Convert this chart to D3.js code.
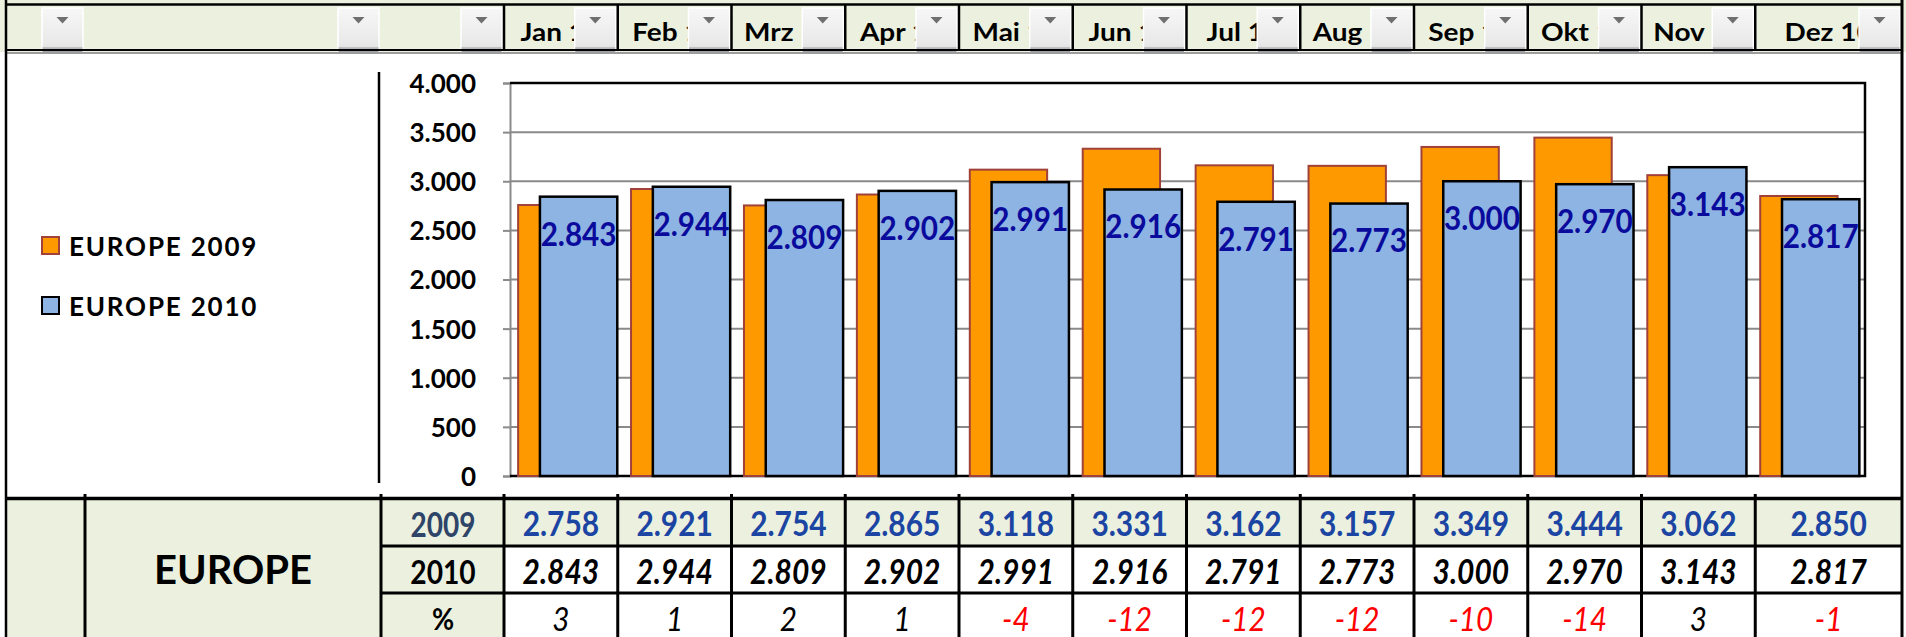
<!DOCTYPE html>
<html><head><meta charset="utf-8">
<script src="https://cdn.jsdelivr.net/npm/d3@7"></script>
<style>
html,body{margin:0;padding:0;background:#fff;}
svg{display:block;font-family:Lato,'Open Sans',sans-serif;}
</style></head><body>
<svg id="c" width="1906" height="637"></svg>
<script>
// ---------- data ----------
const months = ["Jan","Feb","Mrz","Apr","Mai","Jun","Jul","Aug","Sep","Okt","Nov","Dez"];
const headerLabels = ["Jan 10","Feb 10","Mrz 10","Apr 10","Mai 10","Jun 10","Jul 10","Aug 10","Sep 10","Okt 10","Nov 10","Dez 10"];
const series2009 = [2758,2921,2754,2865,3118,3331,3162,3157,3349,3444,3062,2850];
const series2010 = [2843,2944,2809,2902,2991,2916,2791,2773,3000,2970,3143,2817];
const pctChange = [3,1,2,1,-4,-12,-12,-12,-10,-14,3,-1];
const yTicks = [0,500,1000,1500,2000,2500,3000,3500,4000];
const legendLabels = ["EUROPE 2009","EUROPE 2010"];
const rowLabels = ["2009","2010","%"];
const regionLabel = "EUROPE";

// ---------- setup ----------
const W = 1906, H = 637;
const GREEN = "#EBF1DE";
const ORANGE = "#FF9900", ORANGE_STROKE = "#A0413A";
const BLUE = "#8EB4E3";
const svg = d3.select("#c");
const de = d3.formatLocale({decimal:",", thousands:".", grouping:[3], currency:["","€"]});
const fmt = de.format(",d");

function styled(sel, o){
  sel.attr("x",0).attr("y",0)
    .attr("transform",(d,i) => `translate(${typeof o.x==="function"?o.x(d,i):o.x},${typeof o.y==="function"?o.y(d,i):o.y}) scale(${o.sx||1},1)`)
    .attr("text-anchor",o.anchor||"middle")
    .attr("dy",o.dy||"0.36em")
    .attr("font-size",o.size)
    .attr("font-weight",o.weight||"normal")
    .attr("font-style",o.style||"normal")
    .attr("fill",o.fill||"#000");
  if (o.ls) sel.attr("letter-spacing",o.ls);
  return sel;
}

const defs = svg.append("defs");
const g1 = defs.append("linearGradient").attr("id","btn").attr("x1",0).attr("y1",0).attr("x2",0).attr("y2",1);
g1.append("stop").attr("offset","0%").attr("stop-color","#f7f7f7");
g1.append("stop").attr("offset","80%").attr("stop-color","#e9e9ea");
g1.append("stop").attr("offset","100%").attr("stop-color","#dcdcdd");
const g2 = defs.append("linearGradient").attr("id","btnb").attr("x1",0).attr("y1",0).attr("x2",0).attr("y2",1);
g2.append("stop").attr("offset","0%").attr("stop-color","#c4c6c9");
g2.append("stop").attr("offset","100%").attr("stop-color","#9a9da2");

const colX = d3.scaleBand().domain(months).range([504, 504 + 12*113.75]);
const RIGHT = 1902;
const cellW = (i) => i === 11 ? RIGHT - colX(months[i]) : colX.bandwidth();
const colC = (i) => colX(months[i]) + cellW(i)/2;
const leftCols = [[6,85],[85,381],[381,504]];

// ---------- header ----------
svg.append("rect").attr("x",0).attr("y",0).attr("width",W).attr("height",52).attr("fill",GREEN);
svg.append("rect").attr("x",6).attr("y",53).attr("width",RIGHT-6).attr("height",445).attr("fill","#fff");

const hdr = svg.append("g");
styled(hdr.selectAll("text.hl").data(headerLabels).join("text").attr("class","hl").text(d => d),
  {x:(d,i) => colC(i), y:41, dy:"0", size:25, weight:"bold", sx:1.12});
function dropdown(right){
  const g = hdr.append("g").attr("transform",`translate(${right-43},8)`);
  g.append("rect").attr("x",0).attr("y",0).attr("width",41).attr("height",44).attr("fill","url(#btn)").attr("stroke","#ffffff").attr("stroke-width",1.5);
  g.append("rect").attr("x",0.5).attr("y",39).attr("width",40).attr("height",5).attr("fill","url(#btnb)");
  g.append("path").attr("d","M14.5,9 L26.5,9 L20.5,15.5 Z").attr("fill","#6f6f6f");
}
leftCols.forEach(c => dropdown(c[1]));
months.forEach((m,i) => dropdown(colX(m) + cellW(i)));

months.forEach(m => {
  hdr.append("line").attr("x1",colX(m)).attr("x2",colX(m)).attr("y1",4).attr("y2",50).attr("stroke","#000").attr("stroke-width",2.5);
});
hdr.append("line").attr("x1",6).attr("x2",RIGHT).attr("y1",4.5).attr("y2",4.5).attr("stroke","#000").attr("stroke-width",2.5);
hdr.append("line").attr("x1",6).attr("x2",RIGHT).attr("y1",50).attr("y2",50).attr("stroke","#000").attr("stroke-width",2);
hdr.append("line").attr("x1",6).attr("x2",RIGHT).attr("y1",53).attr("y2",53).attr("stroke","#7d7d7d").attr("stroke-width",1.5);

// ---------- chart ----------
const x = d3.scaleBand().domain(months).range([510, 1865]);
const y = d3.scaleLinear().domain([0, 4000]).range([476, 83]);
const bw = x.bandwidth();

const plot = svg.append("g");
plot.selectAll("line.grid").data(yTicks.filter(t => t > 0 && t < 4000)).join("line")
  .attr("class","grid").attr("x1",510).attr("x2",1865)
  .attr("y1",d => y(d)).attr("y2",d => y(d)).attr("stroke","#8a8a8a").attr("stroke-width",2);

const axis = d3.axisLeft(y).tickValues(yTicks).tickSize(7).tickPadding(27).tickFormat(d => fmt(d));
const ag = plot.append("g").attr("transform","translate(510,0)").call(axis);
ag.select(".domain").attr("stroke","#8a8a8a").attr("stroke-width",2);
ag.selectAll(".tick line").attr("stroke","#8a8a8a").attr("stroke-width",2);
ag.selectAll(".tick text").attr("font-size",26).attr("font-weight","bold").attr("fill","#000")
  .attr("font-family","Lato,'Open Sans',sans-serif").attr("dy","0.36em");

plot.append("path").attr("d",`M510,${y(4000)} H1865 V${y(0)} H510`).attr("fill","none").attr("stroke","#000").attr("stroke-width",2.5);

plot.selectAll("rect.b09").data(series2009).join("rect").attr("class","b09")
  .attr("x",(d,i) => x(months[i]) + bw*0.072).attr("width", bw*0.685)
  .attr("y",d => y(d)).attr("height",d => y(0) - y(d))
  .attr("fill",ORANGE).attr("stroke",ORANGE_STROKE).attr("stroke-width",2);
plot.selectAll("rect.b10").data(series2010).join("rect").attr("class","b10")
  .attr("x",(d,i) => x(months[i]) + bw*0.265).attr("width", bw*0.685)
  .attr("y",d => y(d)).attr("height",d => y(0) - y(d))
  .attr("fill",BLUE).attr("stroke","#000").attr("stroke-width",2.5);
styled(plot.selectAll("text.l10").data(series2010).join("text").attr("class","l10").text(d => fmt(d)),
  {x:(d,i) => x(months[i]) + bw*0.265 + bw*0.685/2, y:d => y(d) + 37, size:33, weight:"bold", sx:0.9, fill:"#0A0A9C"});

svg.append("line").attr("x1",379).attr("x2",379).attr("y1",72).attr("y2",483).attr("stroke","#000").attr("stroke-width",2.5);

// legend
const leg = svg.append("g");
[[ORANGE,ORANGE_STROKE],[BLUE,"#000"]].forEach((c,i) => {
  const cy = 246 + i*60;
  leg.append("rect").attr("x",42).attr("y",cy-9).attr("width",17).attr("height",17).attr("fill",c[0]).attr("stroke",c[1]).attr("stroke-width",2);
});
styled(leg.selectAll("text").data(legendLabels).join("text").text(d => d),
  {x:69, y:(d,i) => 247 + i*60, anchor:"start", size:26, weight:"bold", ls:"1.8px"});

// ---------- table ----------
const tb = svg.append("g");
tb.append("rect").attr("x",6).attr("y",499).attr("width",504-6).attr("height",H-499).attr("fill",GREEN);
months.forEach((m,i) => {
  tb.append("rect").attr("x",colX(m)).attr("y",499).attr("width",cellW(i)).attr("height",47).attr("fill",GREEN);
  tb.append("rect").attr("x",colX(m)).attr("y",546).attr("width",cellW(i)).attr("height",H-546).attr("fill","#fff");
});
tb.append("line").attr("x1",6).attr("x2",RIGHT).attr("y1",498.5).attr("y2",498.5).attr("stroke","#000").attr("stroke-width",3.5);
[546,593].forEach(yy => tb.append("line").attr("x1",381).attr("x2",RIGHT).attr("y1",yy).attr("y2",yy).attr("stroke","#000").attr("stroke-width",3));
[85,381].concat(months.map(m => colX(m))).forEach(xx => {
  tb.append("line").attr("x1",xx).attr("x2",xx).attr("y1",494).attr("y2",H).attr("stroke","#000").attr("stroke-width",3);
});

styled(tb.append("text").text(regionLabel), {x:233, y:570, size:40, weight:"bold"});
const rowCY = [524, 572, 619];
styled(tb.append("text").text(rowLabels[0]), {x:443, y:rowCY[0], size:35, weight:"bold", sx:0.8, fill:"#2E4468"});
styled(tb.append("text").text(rowLabels[1]), {x:443, y:rowCY[1], size:32, weight:"bold", sx:0.88});
styled(tb.append("text").text(rowLabels[2]), {x:443, y:rowCY[2], size:30, weight:"bold", sx:0.9});

styled(tb.selectAll("text.v09").data(series2009).join("text").attr("class","v09").text(d => fmt(d)),
  {x:(d,i) => colC(i), y:rowCY[0], size:34, weight:"bold", sx:0.88, fill:"#1C45A3"});
styled(tb.selectAll("text.v10").data(series2010).join("text").attr("class","v10").text(d => fmt(d)),
  {x:(d,i) => colC(i), y:rowCY[1], size:34, weight:"bold", style:"italic", sx:0.88});
styled(tb.selectAll("text.vp").data(pctChange).join("text").attr("class","vp").text(d => d),
  {x:(d,i) => colC(i), y:rowCY[2], size:33, style:"italic", sx:0.9});
tb.selectAll("text.vp").attr("fill",d => d < 0 ? "#FF0000" : "#000");

svg.append("line").attr("x1",6).attr("x2",6).attr("y1",0).attr("y2",H).attr("stroke","#000").attr("stroke-width",2.5);
svg.append("line").attr("x1",RIGHT).attr("x2",RIGHT).attr("y1",0).attr("y2",H).attr("stroke","#000").attr("stroke-width",3);
</script>
</body></html>
